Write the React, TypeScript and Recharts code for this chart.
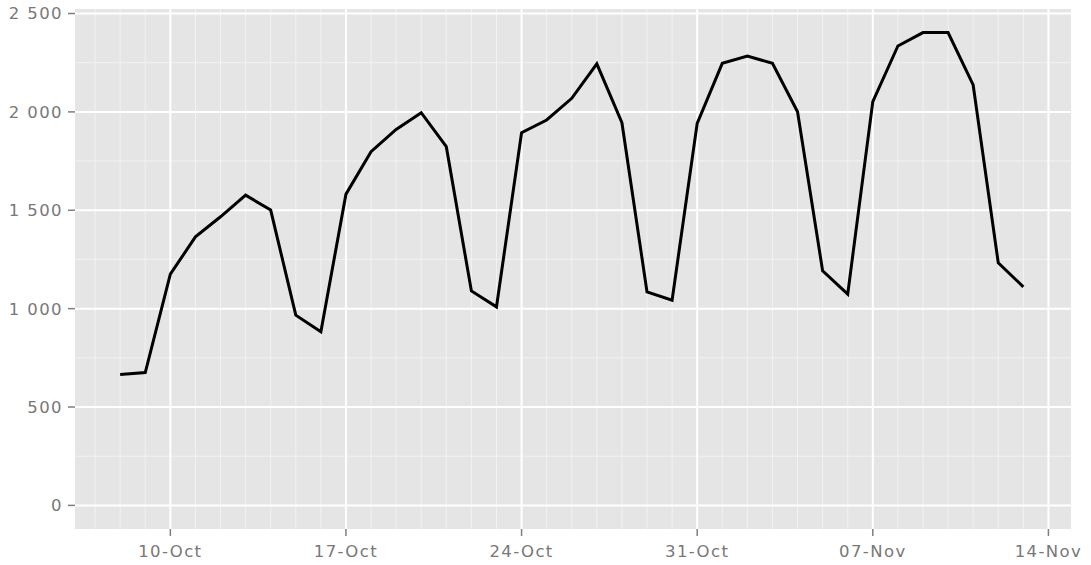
import { LineChart, Line, XAxis, YAxis, CartesianGrid } from 'recharts';

// one point per day, 08-Oct .. 13-Nov
const dates = [
    '08-Oct', '09-Oct', '10-Oct', '11-Oct', '12-Oct', '13-Oct', '14-Oct', '15-Oct', '16-Oct',
    '17-Oct', '18-Oct', '19-Oct', '20-Oct', '21-Oct', '22-Oct', '23-Oct', '24-Oct', '25-Oct',
    '26-Oct', '27-Oct', '28-Oct', '29-Oct', '30-Oct', '31-Oct', '01-Nov', '02-Nov', '03-Nov',
    '04-Nov', '05-Nov', '06-Nov', '07-Nov', '08-Nov', '09-Nov', '10-Nov', '11-Nov', '12-Nov',
    '13-Nov',
];

const counts = [
    665, 675, 1175, 1365, 1467, 1577, 1501, 967, 882,
    1582, 1798, 1911, 1996, 1823, 1090, 1009, 1894, 1959,
    2069, 2244, 1945, 1085, 1043, 1942, 2247, 2284, 2247,
    2001, 1192, 1074, 2052, 2335, 2403, 2403, 2137, 1233,
    1111,
];

// day offsets from 08-Oct
const xTicks = [2, 9, 16, 23, 30, 37];
const xTickLabels = ['10-Oct', '17-Oct', '24-Oct', '31-Oct', '07-Nov', '14-Nov'];
const yTicks = [0, 500, 1000, 1500, 2000, 2500];
const yMinor = [250, 750, 1250, 1750, 2250];
const xMinor = [-1, 0, 1, 3, 4, 5, 6, 7, 8, 10, 11, 12, 13, 14, 15, 17, 18, 19, 20, 21, 22,
    24, 25, 26, 27, 28, 29, 31, 32, 33, 34, 35, 36];

const data = dates.map((d, i) => ({ day: i, label: d, count: counts[i] }));

const tickStyle = { fill: '#787878', fontSize: 16.5, fontFamily: 'DejaVu Sans', letterSpacing: 1.4 };

const formatY = (v: number) => (v >= 1000 ? `${Math.floor(v / 1000)} ${String(v % 1000).padStart(3, '0')}` : `${v}`);

export default function App() {
    return (
        <div style={{ position: 'absolute', left: 0, top: 0, background: '#fff' }}>
            <LineChart width={1091} height={565} data={data} margin={{ top: 9, right: 20, bottom: 0, left: 0 }}>
                <CartesianGrid
                    fill="#e5e5e5"
                    stroke="#f2f2f2"
                    strokeWidth={1}
                    horizontalValues={yMinor}
                    verticalValues={xMinor}
                />
                <CartesianGrid
                    stroke="#ffffff"
                    strokeWidth={2}
                    horizontalValues={yTicks}
                    verticalValues={xTicks}
                />
                <XAxis
                    type="number"
                    dataKey="day"
                    domain={[-1.8, 37.9]}
                    ticks={xTicks}
                    tickFormatter={(v: number) => xTickLabels[xTicks.indexOf(v)] ?? ''}
                    allowDataOverflow
                    axisLine={false}
                    tickLine={{ stroke: '#7f7f7f', strokeWidth: 1.5 }}
                    tickSize={7}
                    tickMargin={9}
                    height={36}
                    tick={tickStyle}
                    interval={0}
                />
                <YAxis
                    type="number"
                    domain={[-120, 2523]}
                    ticks={yTicks}
                    tickFormatter={formatY}
                    allowDataOverflow
                    axisLine={false}
                    tickLine={{ stroke: '#7f7f7f', strokeWidth: 1.5 }}
                    tickSize={7}
                    tickMargin={5}
                    width={75}
                    tick={tickStyle}
                    interval={0}
                />
                <Line
                    type="linear"
                    dataKey="count"
                    stroke="#000000"
                    strokeWidth={3}
                    dot={false}
                    isAnimationActive={false}
                />
            </LineChart>
        </div>
    );
}
